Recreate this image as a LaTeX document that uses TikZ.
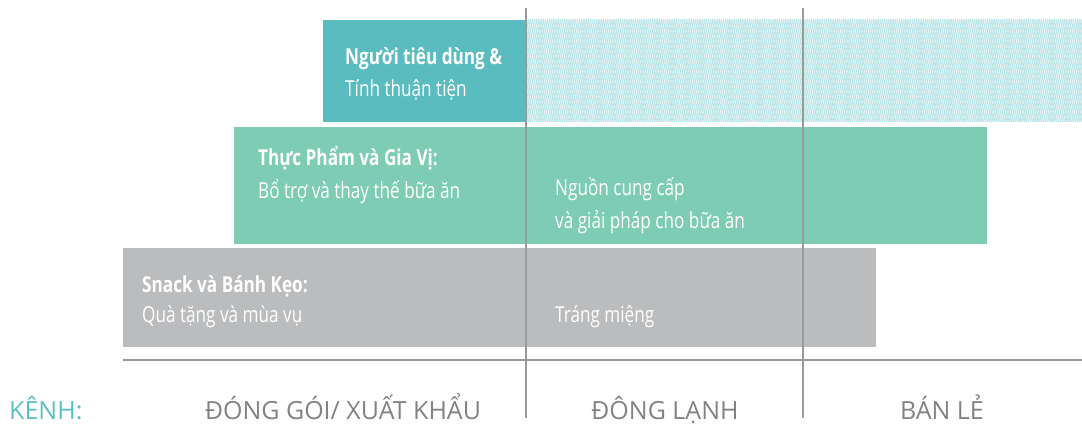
\documentclass[tikz,border=0pt]{standalone}
\usepackage{fontspec}
\setmainfont{Open Sans}
\newfontfamily\condfont[FakeStretch=0.78]{Open Sans}
\usetikzlibrary{patterns.meta}
\definecolor{tealbox}{HTML}{5BBCBF}
\definecolor{greenbox}{HTML}{7ECCB4}
\definecolor{graybox}{HTML}{BBBCBE}
\definecolor{hatchbg}{HTML}{EAF7F8}
\definecolor{hatchln}{HTML}{B3E2E5}
\definecolor{gridln}{HTML}{9A9A9A}
\definecolor{labgray}{HTML}{808285}
\definecolor{labteal}{HTML}{5BBFC4}
\tikzset{
  head/.style={anchor=base west,inner sep=0pt,text=white,font=\condfont\bfseries\fontsize{22}{26}\selectfont},
  body/.style={anchor=base west,inner sep=0pt,text=white,font=\condfont\fontsize{22}{26}\selectfont},
  chan/.style={anchor=base,inner sep=0pt,text=labgray,font=\fontsize{25}{30}\selectfont},
  grid/.style={draw=gridln,line width=1.1pt}
}
\begin{document}
\begin{tikzpicture}[x=1pt,y=-1pt]
\useasboundingbox (0,0) rectangle (1082,425);
% hatched area
\fill[hatchbg] (527,20) rectangle (1082,122);
\fill[pattern={Lines[angle=78,distance=2.1pt,line width=0.7pt]},pattern color=hatchln] (527,20) rectangle (1082,122);
\fill[pattern={Lines[angle=102,distance=2.1pt,line width=0.5pt]},pattern color=hatchln] (527,20) rectangle (1082,122);
% boxes
\fill[tealbox] (323,20) rectangle (527,122);
\fill[greenbox] (234,127) rectangle (987,244);
\fill[graybox] (123,248) rectangle (876,347);
% grid lines
\coordinate (v1t) at (526,8); \coordinate (v1b) at (526,418);
\coordinate (v2t) at (803,8); \coordinate (v2b) at (803,418);
\coordinate (hl) at (123,360); \coordinate (hr) at (1082,360);
\draw[grid] (v1t) -- (v1b);
\draw[grid] (v2t) -- (v2b);
\draw[grid] (hl) -- (hr);
% box texts
\node[head] (t1) at (345,65) {Người tiêu dùng \&};
\node[body] (t2) at (345,97) {Tính thuận tiện};
\node[head] (g1) at (258,165) {Thực Phẩm và Gia Vị:};
\node[body] (g2) at (258,198) {Bổ trợ và thay thế bữa ăn};
\node[body] (g3) at (555,195) {Nguồn cung cấp};
\node[body] (g4) at (555,228) {và giải pháp cho bữa ăn};
\node[head] (s1) at (142,292) {Snack và Bánh Kẹo:};
\node[body] (s2) at (142,322) {Quà tặng và mùa vụ};
\node[body] (s3) at (555,322) {Tráng miệng};
% channel labels
\node[anchor=base west,inner sep=0pt,text=labteal,font=\fontsize{25}{30}\selectfont] (k) at (9,419) {KÊNH:};
\node[chan] (c1) at (343,419) {ĐÓNG GÓI/ XUẤT KHẨU};
\node[chan] (c2) at (665,419) {ĐÔNG LẠNH};
\node[chan] (c3) at (942,419) {BÁN LẺ};
\end{tikzpicture}
\end{document}
